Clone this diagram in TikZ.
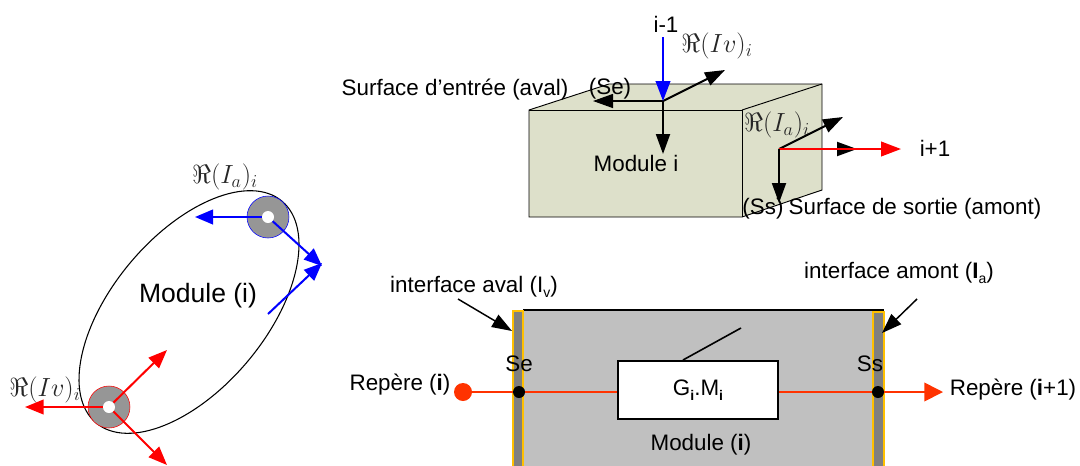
\documentclass[tikz,border=0pt]{standalone}
\usepackage{fontspec}
\setmainfont{Liberation Sans}
\usepackage{graphicx}
\usepackage{tikz}
\usetikzlibrary{arrows.meta,shapes.geometric}
\definecolor{boxface}{HTML}{DDE0CA}
\definecolor{hubgray}{HTML}{969696}
\definecolor{blockgray}{HTML}{C0C0C0}
\definecolor{stripgray}{HTML}{808080}
\definecolor{stripedge}{HTML}{FFC000}
\definecolor{repred}{HTML}{FF3300}
\newcommand{\lowtxt}[1]{\raisebox{-0.22em}{\fontsize{10.5}{10.5}\selectfont #1}}
\newcommand{\frameiv}{\scalebox{1.14}{$\Re(Iv)_i$}}
\newcommand{\frameia}{\scalebox{1.14}{$\Re(I_a)_i$}}
\begin{document}
\begin{tikzpicture}[x=0.75pt, y=-0.75pt,
    every node/.style={font=\fontsize{16.8}{20}\selectfont, inner sep=0pt},
    big/.style={font=\fontsize{19.9}{24}\selectfont},
    mathlabel/.style={font=\fontsize{17.28}{21}\selectfont, text=black!85},
    hub/.style={circle, fill=hubgray, minimum size=31.5pt},
    hole/.style={circle, fill=white, minimum size=9pt},
    dot/.style={circle, fill=black, minimum size=9pt},
    blackarrow/.style={-{Triangle[length=15pt, width=10.5pt]}, line width=1.5pt},
    bluearrow/.style={-{Triangle[length=13.5pt, width=11pt]}, line width=1.5pt, blue},
    redarrow/.style={-{Triangle[length=14pt, width=11pt]}, line width=1.5pt, red},
    reparrow/.style={-{Triangle[length=14pt, width=14pt]}, line width=1.2pt, repred},
    repline/.style={line width=1.2pt, repred},
    strip/.style={fill=stripgray, draw=stripedge, line width=1.2pt}]
  \useasboundingbox (0,0) rectangle (1080,465);

  \node[draw, ellipse, line width=0.8pt, minimum width=217pt, minimum height=115pt, rotate=50] (moduleoval) at (189,312) {};
  \node[big] (moduleleft) at (198,296) {Module (i)};
  \node[mathlabel] (labelia) at (225,177) {\frameia};
  \node[mathlabel] (labeliv) at (45,390) {\frameiv};
  \node[hub, draw=blue] (hubtop) at (268,217) {};
  \node[hub, draw=red] (hubbottom) at (109,407) {};
  \node[hole] (holetop) at (268,217) {};
  \node[hole] (holebottom) at (109,407) {};
  \coordinate (bluew) at (195,217);
  \coordinate (bluese) at (322,266);
  \coordinate (bluestart) at (268,314);
  \coordinate (bluene) at (322,263);
  \coordinate (redne) at (167,350);
  \coordinate (redw) at (25,407);
  \coordinate (redse) at (167,465);
  \draw[bluearrow] (holetop) -- (bluew);
  \draw[bluearrow] (holetop) -- (bluese);
  \draw[bluearrow] (bluestart) -- (bluene);
  \draw[redarrow] (holebottom) -- (redne);
  \draw[redarrow] (holebottom) -- (redw);
  \draw[redarrow] (holebottom) -- (redse);

  \draw[fill=boxface, line width=0.7pt] (529,110) -- (609,84) -- (822,84) -- (822,190) -- (742,217) -- (529,217) -- cycle;
  \draw[line width=0.7pt] (529,110) -- (742,110) -- (742,217);
  \draw[line width=0.7pt] (742,110) -- (822,84);
  \node (surfin) at (455,90) {Surface d’entrée (aval)};
  \node (se) at (610,89) {(Se)};
  \node (modulei) at (636,163) {Module i};
  \node (iminus) at (666,24) {i-1};
  \node (iplus) at (935,148) {i+1};
  \node (ss) at (763,209) {(Ss)};
  \node (surfout) at (915,209) {Surface de sortie (amont)};
  \node[mathlabel] (labelivbox) at (717,46) {\frameiv};
  \node[mathlabel] (labeliabox) at (777,125) {\frameia};
  \coordinate (originin) at (663,101);
  \coordinate (originout) at (779,149);
  \coordinate (blueabove) at (663,37);
  \coordinate (inleft) at (593,101);
  \coordinate (inback) at (725,70);
  \coordinate (indown) at (663,154);
  \coordinate (outback) at (843,117);
  \coordinate (outright) at (857,149);
  \coordinate (outred) at (901,149);
  \coordinate (outdown) at (779,203);
  \draw[blackarrow, line width=1pt] (originin) -- (inleft);
  \draw[blackarrow] (originin) -- (inback);
  \draw[blackarrow] (originin) -- (indown);
  \draw[-{Triangle[length=15pt, width=11pt]}, line width=1.5pt, blue] (blueabove) -- (originin);
  \draw[blackarrow] (originout) -- (outback);
  \draw[blackarrow] (originout) -- (outright);
  \draw[-{Triangle[length=15pt, width=11pt]}, line width=1.5pt, red] (originout) -- (outred);
  \draw[blackarrow] (originout) -- (outdown);

  \fill[blockgray] (518,310) rectangle (878,470);
  \draw[line width=1.5pt] (523,310) -- (884,310);
  \draw[strip] (513,311) rectangle (523,470);
  \draw[strip] (873,312) rectangle (884,470);
  \node[draw, fill=white, line width=1.5pt, minimum width=120pt, minimum height=43.5pt] (gibox) at (698,390) {G\lowtxt{\textbf{i}}.M\lowtxt{\textbf{i}}};
  \node (moduleblock) at (701,445) {Module (\textbf{i})};
  \node (labelse) at (519,364) {Se};
  \node (labelss) at (870,364) {Ss};
  \node (ifaval) at (474,287) {interface aval (I\lowtxt{v})};
  \node (ifamont) at (899,273) {interface amont (\textbf{I}\lowtxt{a})};
  \node (repi) at (400,385) {Repère (\textbf{i})};
  \node (repnext) at (1013,390) {Repère (\textbf{i}+1)};
  \node[circle, fill=repred, minimum size=13.5pt] (startdot) at (463,392) {};
  \node[dot] (sedot) at (519,392) {};
  \node[dot] (ssdot) at (878,392) {};
  \coordinate (reptip) at (943,392);
  \draw[repline] (startdot) -- (sedot);
  \draw[repline] (sedot) -- (sedot -| gibox.west);
  \draw[repline] (ssdot -| gibox.east) -- (ssdot);
  \draw[reparrow] (ssdot) -- (reptip);
  \coordinate (gistart) at (683,360);
  \coordinate (giend) at (741,328);
  \draw[line width=1.2pt] (gistart) -- (giend);
  \coordinate (avalstart) at (458,299);
  \coordinate (avaltip) at (512,331);
  \coordinate (amontstart) at (917,299);
  \coordinate (amonttip) at (882,333);
  \draw[blackarrow, line width=1.1pt] (avalstart) -- (avaltip);
  \draw[blackarrow, line width=1.1pt] (amontstart) -- (amonttip);
\end{tikzpicture}
\end{document}
